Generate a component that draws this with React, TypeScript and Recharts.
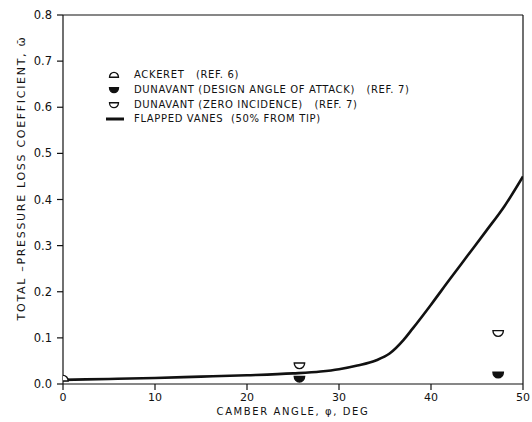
import React from 'react';
import { ComposedChart, Line, Scatter, XAxis, YAxis, ReferenceLine } from 'recharts';

// Flapped vanes (50% from tip): loss coefficient vs camber angle
const camberAngles = [0, 5, 10, 15, 20, 25, 28, 30, 32, 34, 35.5, 37, 38, 40, 42, 44, 46, 48, 50];
const flappedLoss = [0.009, 0.011, 0.013, 0.016, 0.019, 0.023, 0.027, 0.032, 0.04, 0.051, 0.066, 0.095, 0.12, 0.172, 0.226, 0.279, 0.332, 0.386, 0.45];

// Test points
const ackeretAngles = [0];
const ackeretLoss = [0.012];
const dunavantDesignAngles = [25.7, 47.3];
const dunavantDesignLoss = [0.011, 0.02];
const dunavantZeroAngles = [25.7, 47.3];
const dunavantZeroLoss = [0.04, 0.11];

const xTicks = [0, 10, 20, 30, 40, 50];
const yTicks = [0, 0.1, 0.2, 0.3, 0.4, 0.5, 0.6, 0.7, 0.8];

const legendLabels = [
  'ACKERET   (REF. 6)',
  'DUNAVANT (DESIGN ANGLE OF ATTACK)   (REF. 7)',
  'DUNAVANT (ZERO INCIDENCE)   (REF. 7)',
  'FLAPPED VANES  (50% FROM TIP)',
];

const pair = (xs: number[], ys: number[]) => xs.map((x, i) => ({ x, y: ys[i] }));
const lineData = pair(camberAngles, flappedLoss);
const ackeretData = pair(ackeretAngles, ackeretLoss);
const designData = pair(dunavantDesignAngles, dunavantDesignLoss);
const zeroData = pair(dunavantZeroAngles, dunavantZeroLoss);

const FONT = '"DejaVu Sans", sans-serif';
const INK = '#111';

// half-disc markers: bowl (flat top) and dome (flat bottom)
const bowlPath = (cx: number, cy: number, r: number) => {
  const top = cy - r * 0.5;
  return `M${cx - r},${top} L${cx + r},${top} A${r},${r * 1.1} 0 0 1 ${cx - r},${top} Z`;
};
const domePath = (cx: number, cy: number, r: number) => {
  const bot = cy + r * 0.5;
  return `M${cx - r},${bot} A${r},${r * 1.1} 0 0 1 ${cx + r},${bot} Z`;
};

const OpenBowl = (p: any) => <path d={bowlPath(p.cx, p.cy, 5.2)} fill="#fff" stroke={INK} strokeWidth={1.4} />;
const FilledBowl = (p: any) => <path d={bowlPath(p.cx, p.cy, 5.2)} fill={INK} stroke={INK} strokeWidth={1.4} />;
const OpenDome = (p: any) => <path d={domePath(p.cx, p.cy, 5.2)} fill="#fff" stroke={INK} strokeWidth={1.4} />;

const YTick = (p: any) => {
  const { x, y, payload } = p;
  return (
    <g>
      <line x1={x} y1={y} x2={x + 6} y2={y} stroke={INK} strokeWidth={1.2} />
      <text x={x - 5} y={y} dy={4} textAnchor="end" fontFamily={FONT} fontSize={11.5} fill={INK}>
        {Number(payload.value).toFixed(1)}
      </text>
    </g>
  );
};

const XTick = (p: any) => {
  const { x, y, payload } = p;
  return (
    <g>
      <line x1={x} y1={y} x2={x} y2={y - 6} stroke={INK} strokeWidth={1.2} />
      <text x={x} y={y} dy={11} textAnchor="middle" fontFamily={FONT} fontSize={11} fill={INK}>
        {payload.value}
      </text>
    </g>
  );
};

const legendIcons = [
  <path d={domePath(8, 6, 4.5)} fill="#fff" stroke={INK} strokeWidth={1.3} />,
  <path d={bowlPath(8, 6, 4.5)} fill={INK} stroke={INK} strokeWidth={1.3} />,
  <path d={bowlPath(8, 6, 4.5)} fill="#fff" stroke={INK} strokeWidth={1.3} />,
  <line x1={0} y1={6} x2={18} y2={6} stroke={INK} strokeWidth={3} />,
];

const LegendBox = () => (
  <div
    style={{
      position: 'absolute',
      left: 106,
      top: 68,
      fontFamily: FONT,
      fontSize: 10,
      color: INK,
      letterSpacing: 0.65,
      lineHeight: 1,
    }}
  >
    {legendLabels.map((label, i) => (
      <div key={label} style={{ display: 'flex', alignItems: 'center', height: 14.7, whiteSpace: 'pre' }}>
        <svg width={28} height={12} style={{ flex: 'none' }}>
          {legendIcons[i]}
        </svg>
        <span>{label}</span>
      </div>
    ))}
  </div>
);

const YTitle = () => (
  <text
    transform="translate(25,178) rotate(-90)"
    textAnchor="middle"
    fontFamily={FONT}
    fontSize={11}
    letterSpacing={1.7}
    fill={INK}
  >
    TOTAL –PRESSURE LOSS COEFFICIENT, ω̄
  </text>
);

export default function App() {
  return (
    <div style={{ position: 'absolute', left: 0, top: 0, width: 532, height: 422, background: '#fff' }}>
      <ComposedChart width={532} height={422} margin={{ top: 15, right: 9, left: 0, bottom: 0 }}>
        <XAxis
          type="number"
          dataKey="x"
          domain={[0, 50]}
          ticks={xTicks}
          height={38}
          axisLine={{ stroke: INK, strokeWidth: 1.2 }}
          tickLine={false}
          tickMargin={0}
          tick={<XTick />}
          allowDataOverflow
          label={{
            value: 'CAMBER ANGLE, φ, DEG',
            position: 'insideBottom',
            offset: 7,
            fontFamily: FONT,
            fontSize: 10,
            letterSpacing: 1.6,
            fill: INK,
          }}
        />
        <YAxis
          type="number"
          dataKey="y"
          domain={[0, 0.8]}
          ticks={yTicks}
          width={63}
          axisLine={{ stroke: INK, strokeWidth: 1.2 }}
          tickLine={false}
          tickMargin={0}
          tick={<YTick />}
          allowDataOverflow
          label={{ content: () => <YTitle /> }}
        />
        <ReferenceLine y={0.8} stroke={INK} strokeWidth={1.2} />
        <ReferenceLine x={50} stroke={INK} strokeWidth={1.2} />
        <Line
          data={lineData}
          dataKey="y"
          type="monotone"
          stroke={INK}
          strokeWidth={2.6}
          dot={false}
          isAnimationActive={false}
        />
        <Scatter data={ackeretData} dataKey="y" shape={<OpenDome />} isAnimationActive={false} />
        <Scatter data={designData} dataKey="y" shape={<FilledBowl />} isAnimationActive={false} />
        <Scatter data={zeroData} dataKey="y" shape={<OpenBowl />} isAnimationActive={false} />
      </ComposedChart>
      <LegendBox />
    </div>
  );
}
